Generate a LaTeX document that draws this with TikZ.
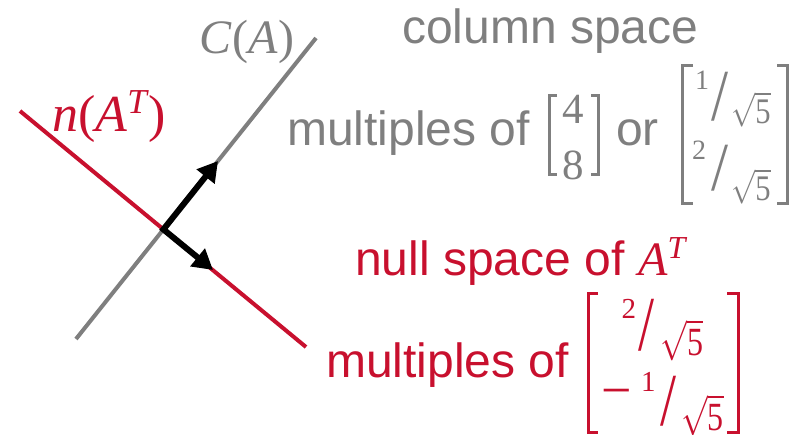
\RequirePackage{fix-cm}
\documentclass[tikz,border=0pt]{standalone}
\usepackage[no-math]{fontspec}
\setmainfont{Liberation Sans}
\newfontfamily\ms{Liberation Serif}
\usepackage{graphicx}
\usetikzlibrary{arrows.meta}
\definecolor{lgray}{HTML}{7F7F7F}
\definecolor{lred}{HTML}{C8102E}
\newcommand\fs[1]{\fontsize{#1}{#1}\selectfont}
\newcommand\rb[2]{\raisebox{#1pt}{#2}}
% superscript digit: raise, size, digit
\newcommand\sdig[3]{\raisebox{#1pt}{\fs{#2}\ms #3}}
% slash: raise, width, height
\newcommand\sslash[3]{\raisebox{#1pt}{\resizebox*{#2pt}{#3pt}{\fs{40}\ms /}}}
% root five: xscale, math size, digit size
\newcommand\rootf[3]{\scalebox{#1}[1]{\fs{#2}$\sqrt{\hbox{\fs{#3}\ms 5}}$}}
\tikzset{
  txt/.style={inner sep=0pt, anchor=base west, font=\fontsize{48}{56}\selectfont},
  mth/.style={inner sep=0pt, anchor=base west, font=\fontsize{48}{56}\selectfont\ms},
  ent/.style={inner sep=0pt, anchor=base west},
  brk/.style={line width=3pt, line cap=butt, line join=miter},
  axisline/.style={line width=4pt},
  vec/.style={line width=6pt, line join=miter, {Triangle[length=20pt,width=22pt]}-{Triangle[length=20pt,width=22pt]}},
}
\begin{document}
\begin{tikzpicture}[x=1pt,y=-1pt]
\useasboundingbox (0,0) rectangle (802,434);
% lines
\coordinate (R1) at (20,111);
\coordinate (R2) at (306,347);
\coordinate (G1) at (76,339);
\coordinate (G2) at (316,38);
\coordinate (O) at (163.4,229.4);
\coordinate (TG) at (218,161);
\coordinate (TR) at (213,270);
\draw[axisline, lred] (R1) -- (R2);
\draw[axisline, lgray] (G1) -- (G2);
\draw[vec] (TG) -- (O) -- (TR);
% labels on lines
\node[mth, lgray] (CA) at (199,53) {\textit{C}\kern1pt(\textit{A})};
\node[mth, lred, font=\fontsize{52}{56}\selectfont\ms] (nA) at (52,131) {\textit{n}(\textit{A}\rb{18}{\fs{35}\textit{T}})};
% gray text
\node[txt, lgray] (cs) at (402,43) {column space};
\node[txt, lgray] (mg) at (287,145) {multiples of};
\node[ent, lgray, anchor=base, font=\fontsize{43}{43}\selectfont\ms] (g4) at (573,123) {4};
\node[ent, lgray, anchor=base, font=\fontsize{43}{43}\selectfont\ms] (g8) at (573,179) {8};
\draw[brk, lgray] (557,95) -- (549.5,95) -- (549.5,174) -- (557,174);
\draw[brk, lgray] (591,95) -- (598.5,95) -- (598.5,174) -- (591,174);
\node[txt, lgray] (or) at (616,145) {or};
\draw[brk, lgray] (693,65) -- (682,65) -- (682,203) -- (693,203);
\draw[brk, lgray] (777,65) -- (787,65) -- (787,203) -- (777,203);
\node[ent, lgray] (gf1) at (695,123) {\sdig{34}{28}{1}\kern2.5pt\sslash{2.2}{17}{49}\kern2.5pt\rootf{0.85}{34}{36}};
\node[ent, lgray] (gf2) at (692,200) {\sdig{41}{28}{2}\kern5.5pt\sslash{9.2}{17}{46}\kern2.5pt\rootf{0.85}{34}{36}};
% red text
\node[txt, lred] (ns) at (355,275) {null space of {\ms\textit{A}\rb{17}{\fs{32}\textit{T}}}};
\node[txt, lred] (mr) at (326,377) {multiples of};
\draw[brk, lred] (598,293) -- (588,293) -- (588,432) -- (598,432);
\draw[brk, lred] (727,293) -- (738,293) -- (738,432) -- (727,432);
\node[ent, lred] (rf1) at (621.5,355) {\sdig{37}{29}{2}\kern2.5pt\sslash{4.3}{16}{52}\kern6pt\rootf{0.8}{40}{40}};
\node[ent, lred] (rf2) at (601.4,430) {\raisebox{21.5pt}{\fs{54}\ms −}\kern9pt\sdig{39}{29}{1}\kern4.5pt\sslash{4.3}{16}{50}\kern5pt\rootf{0.8}{40}{40}};
\end{tikzpicture}
\end{document}
